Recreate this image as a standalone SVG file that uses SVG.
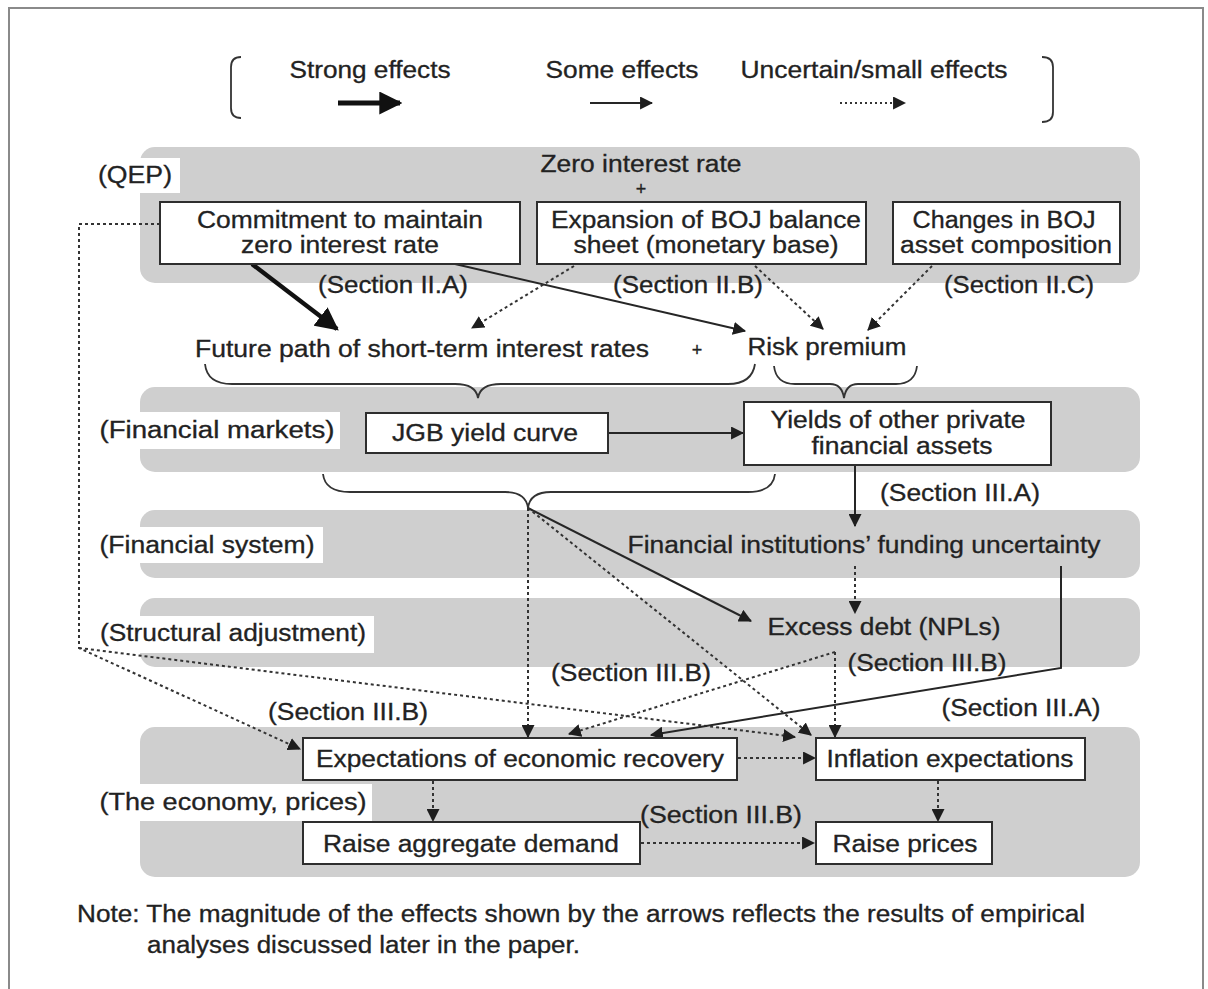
<svg xmlns="http://www.w3.org/2000/svg" width="1208" height="989" viewBox="0 0 1208 989">
<style>
.t{font-family:"Liberation Sans",Arial,Helvetica,sans-serif;font-size:23px;fill:#222;stroke:#222;stroke-width:0.3;}
.m{text-anchor:middle;}
.plus{font-size:18px;}
.band{fill:#cfcfcf;}
.lab{fill:#ffffff;}
.box{fill:#ffffff;stroke:#2e2e2e;stroke-width:2;}
.s{fill:none;stroke:#262626;stroke-width:2;}
.d{fill:none;stroke:#333;stroke-width:2;stroke-dasharray:3 3;}
.br{fill:none;stroke:#333;stroke-width:1.8;}
</style>
<defs>
<marker id="ah" viewBox="0 0 12 12" refX="11" refY="6" markerWidth="13" markerHeight="13" markerUnits="userSpaceOnUse" orient="auto"><path d="M0,0 L12,6 L0,12 z" fill="#1e1e1e"/></marker>
<marker id="ahB" viewBox="0 0 20 20" refX="18" refY="10" markerWidth="23" markerHeight="23" markerUnits="userSpaceOnUse" orient="auto"><path d="M0,0 L20,10 L0,20 z" fill="#111"/></marker>
</defs>
<rect x="0" y="0" width="1208" height="989" fill="#ffffff"/>
<path d="M9,989 L9,8 L1203,8 L1203,989" fill="none" stroke="#8a8a8a" stroke-width="2"/>

<g id="legend">
<path class="br" d="M241,57 Q231,57 231,67 L231,108 Q231,118 241,118"/>
<path class="br" d="M1042,57 Q1053,57 1053,67 L1053,112 Q1053,122 1042,122"/>
<text class="t m" x="370" y="78" textLength="161" lengthAdjust="spacingAndGlyphs">Strong effects</text>
<text class="t m" x="622" y="78" textLength="153" lengthAdjust="spacingAndGlyphs">Some effects</text>
<text class="t m" x="874" y="78" textLength="267" lengthAdjust="spacingAndGlyphs">Uncertain/small effects</text>
<line x1="338" y1="103" x2="400" y2="103" stroke="#111" stroke-width="5" marker-end="url(#ahB)"/>
<line x1="590" y1="103" x2="652" y2="103" class="s" marker-end="url(#ah)"/>
<line x1="840" y1="103" x2="905" y2="103" fill="none" stroke="#333" stroke-width="2" stroke-dasharray="2 3" marker-end="url(#ah)"/>
</g>

<g id="bands">
<rect class="band" x="140" y="147" width="1000" height="136" rx="15"/>
<rect class="band" x="140" y="387" width="1000" height="85" rx="15"/>
<rect class="band" x="140" y="510" width="1000" height="68" rx="15"/>
<rect class="band" x="140" y="598" width="1000" height="69" rx="15"/>
<rect class="band" x="140" y="727" width="1000" height="150" rx="15"/>
<rect class="lab" x="88" y="158" width="92" height="35"/>
<rect class="lab" x="88" y="412" width="252" height="37"/>
<rect class="lab" x="88" y="527" width="235" height="36"/>
<rect class="lab" x="88" y="616" width="286" height="37"/>
<rect class="lab" x="88" y="784" width="284" height="37"/>
<text class="t m" x="135" y="183" textLength="74" lengthAdjust="spacingAndGlyphs">(QEP)</text>
<text class="t m" x="217" y="438" textLength="235" lengthAdjust="spacingAndGlyphs">(Financial markets)</text>
<text class="t m" x="207" y="553" textLength="215" lengthAdjust="spacingAndGlyphs">(Financial system)</text>
<text class="t m" x="233" y="641" textLength="266" lengthAdjust="spacingAndGlyphs">(Structural adjustment)</text>
<text class="t m" x="233" y="810" textLength="267" lengthAdjust="spacingAndGlyphs">(The economy, prices)</text>
</g>

<g id="connectors">
<path class="d" d="M160,224 L79,224 L79,648 L300,749" marker-end="url(#ah)"/>
<path class="d" d="M79,648 L795,737" marker-end="url(#ah)"/>
<line x1="252" y1="264" x2="337" y2="329" stroke="#111" stroke-width="4.5" marker-end="url(#ahB)"/>
<line x1="455" y1="264" x2="745" y2="331" class="s" marker-end="url(#ah)"/>
<line x1="574" y1="266" x2="472" y2="328" class="d" marker-end="url(#ah)"/>
<line x1="755" y1="266" x2="823" y2="329" class="d" marker-end="url(#ah)"/>
<line x1="932" y1="266" x2="868" y2="330" class="d" marker-end="url(#ah)"/>
<path class="br" d="M205,364 Q207,384 232,384 L455,384 Q476,384 478,398 Q480,384 501,384 L728,384 Q752,384 755,364"/>
<path class="br" d="M774,366 Q776,384 795,384 L830,384 Q842,384 844,398 Q846,384 858,384 L896,384 Q915,384 917,366"/>
<path class="br" d="M323,474 Q325,492 350,492 L505,492 Q526,492 528,508 Q530,492 551,492 L748,492 Q773,492 775,474"/>
<line x1="608" y1="433" x2="743" y2="433" class="s" marker-end="url(#ah)"/>
<line x1="855" y1="466" x2="855" y2="526" class="s" marker-end="url(#ah)"/>
<line x1="855" y1="566" x2="855" y2="613" class="d" marker-end="url(#ah)"/>
<line x1="528" y1="508" x2="528" y2="737" class="d" marker-end="url(#ah)"/>
<line x1="528" y1="508" x2="751" y2="621" class="s" marker-end="url(#ah)"/>
<line x1="528" y1="508" x2="811" y2="735" class="d" marker-end="url(#ah)"/>
<path class="s" d="M1061,566 L1061,668 L651,735" marker-end="url(#ah)"/>
<path class="d" d="M835,652 L835,737" marker-end="url(#ah)"/>
<path class="d" d="M835,652 L569,734" marker-end="url(#ah)"/>
<line x1="738" y1="758" x2="815" y2="758" class="d" marker-end="url(#ah)"/>
<line x1="433" y1="781" x2="433" y2="821" class="d" marker-end="url(#ah)"/>
<line x1="938" y1="781" x2="938" y2="821" class="d" marker-end="url(#ah)"/>
<line x1="641" y1="843" x2="814" y2="843" class="d" marker-end="url(#ah)"/>
</g>

<g id="qep-header">
<text class="t m" x="641" y="172" textLength="201" lengthAdjust="spacingAndGlyphs">Zero interest rate</text>
<text class="t m plus" x="641" y="195">+</text>
</g>
<g id="commitment">
<rect class="box" x="160" y="202" width="360" height="62"/>
<text class="t m" x="340" y="228" textLength="286" lengthAdjust="spacingAndGlyphs">Commitment to maintain</text>
<text class="t m" x="340" y="253" textLength="198" lengthAdjust="spacingAndGlyphs">zero interest rate</text>
</g>
<g id="expansion">
<rect class="box" x="537" y="202" width="329" height="62"/>
<text class="t m" x="706" y="228" textLength="310" lengthAdjust="spacingAndGlyphs">Expansion of BOJ balance</text>
<text class="t m" x="706" y="253" textLength="265" lengthAdjust="spacingAndGlyphs">sheet (monetary base)</text>
</g>
<g id="changes">
<rect class="box" x="893" y="202" width="227" height="62"/>
<text class="t m" x="1004" y="228" textLength="183" lengthAdjust="spacingAndGlyphs">Changes in BOJ</text>
<text class="t m" x="1006" y="253" textLength="212" lengthAdjust="spacingAndGlyphs">asset composition</text>
</g>
<g id="section-labels">
<text class="t m" x="393" y="293" textLength="150" lengthAdjust="spacingAndGlyphs">(Section II.A)</text>
<text class="t m" x="688" y="293" textLength="150" lengthAdjust="spacingAndGlyphs">(Section II.B)</text>
<text class="t m" x="1019" y="293" textLength="150" lengthAdjust="spacingAndGlyphs">(Section II.C)</text>
<text class="t m" x="960" y="501" textLength="160" lengthAdjust="spacingAndGlyphs">(Section III.A)</text>
<text class="t m" x="927" y="671" textLength="159" lengthAdjust="spacingAndGlyphs">(Section III.B)</text>
<text class="t m" x="631" y="681" textLength="160" lengthAdjust="spacingAndGlyphs">(Section III.B)</text>
<text class="t m" x="348" y="720" textLength="160" lengthAdjust="spacingAndGlyphs">(Section III.B)</text>
<text class="t m" x="1021" y="716" textLength="159" lengthAdjust="spacingAndGlyphs">(Section III.A)</text>
<text class="t m" x="721" y="823" textLength="162" lengthAdjust="spacingAndGlyphs">(Section III.B)</text>
</g>
<g id="future-path">
<text class="t m" x="422" y="357" textLength="454" lengthAdjust="spacingAndGlyphs">Future path of short-term interest rates</text>
<text class="t m plus" x="697" y="356">+</text>
</g>
<g id="risk-premium">
<text class="t m" x="827" y="355" textLength="159" lengthAdjust="spacingAndGlyphs">Risk premium</text>
</g>
<g id="jgb">
<rect class="box" x="366" y="413" width="242" height="40"/>
<text class="t m" x="485" y="441" textLength="186" lengthAdjust="spacingAndGlyphs">JGB yield curve</text>
</g>
<g id="yields">
<rect class="box" x="744" y="402" width="307" height="63"/>
<text class="t m" x="898" y="428" textLength="255" lengthAdjust="spacingAndGlyphs">Yields of other private</text>
<text class="t m" x="902" y="454" textLength="181" lengthAdjust="spacingAndGlyphs">financial assets</text>
</g>
<g id="funding">
<text class="t m" x="864" y="553" textLength="473" lengthAdjust="spacingAndGlyphs">Financial institutions’ funding uncertainty</text>
</g>
<g id="excess-debt">
<text class="t m" x="884" y="635" textLength="233" lengthAdjust="spacingAndGlyphs">Excess debt (NPLs)</text>
</g>
<g id="recovery">
<rect class="box" x="303" y="738" width="434" height="42"/>
<text class="t m" x="520" y="767" textLength="408" lengthAdjust="spacingAndGlyphs">Expectations of economic recovery</text>
</g>
<g id="inflation">
<rect class="box" x="816" y="738" width="269" height="42"/>
<text class="t m" x="950" y="767" textLength="247" lengthAdjust="spacingAndGlyphs">Inflation expectations</text>
</g>
<g id="demand">
<rect class="box" x="303" y="822" width="337" height="42"/>
<text class="t m" x="471" y="852" textLength="296" lengthAdjust="spacingAndGlyphs">Raise aggregate demand</text>
</g>
<g id="prices">
<rect class="box" x="816" y="822" width="176" height="42"/>
<text class="t m" x="905" y="852" textLength="145" lengthAdjust="spacingAndGlyphs">Raise prices</text>
</g>
<g id="note">
<text class="t" x="77" y="922" textLength="1008" lengthAdjust="spacingAndGlyphs">Note: The magnitude of the effects shown by the arrows reflects the results of empirical</text>
<text class="t" x="147" y="953" textLength="433" lengthAdjust="spacingAndGlyphs">analyses discussed later in the paper.</text>
</g>
</svg>
